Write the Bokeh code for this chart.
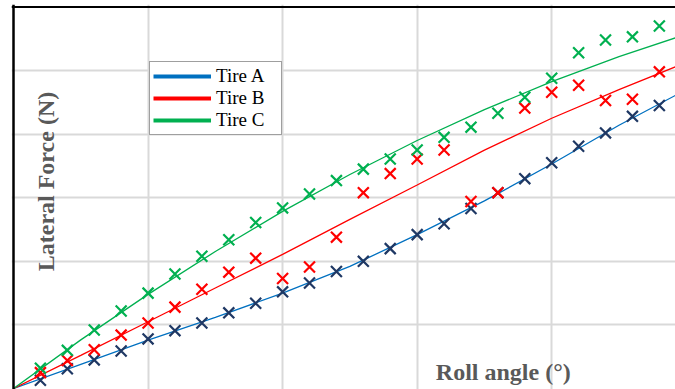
from math import pi

from bokeh.plotting import figure
from bokeh.models import (Range1d, FixedTicker, Grid, Span, Label, Legend,
                          LegendItem, ColumnDataSource)
from bokeh.embed import file_html
from bokeh.resources import INLINE

# Measured points: roll angle (deg) and lateral force (N) for each tire
roll_angle = [2, 4, 6, 8, 10, 12, 14, 16, 18, 20, 22, 24,
              26, 28, 30, 32, 34, 36, 38, 40, 42, 44, 46, 48]
tire_a = [26, 62, 90, 118, 156, 182, 206, 238, 268, 304, 332, 368,
          400, 440, 484, 518, 566, 616, 660, 710, 762, 804, 856, 890]
tire_b = [50, 88, 122, 168, 206, 256, 312, 366, 410, 346, 382, 476,
          616, 676, 722, 750, 588, 616, 882, 932, 954, 906, 910, 996]
tire_c = [64, 120, 184, 244, 300, 360, 416, 468, 522, 568, 612, 654,
          690, 722, 750, 790, 822, 866, 916, 976, 1056, 1096, 1106, 1140]

# Trend curves for each tire
trend_angle = [0, 5, 10, 15, 20, 25, 30, 35, 40, 45, 49.2]
trend_a = [0, 76, 152, 224, 300, 384, 484, 590, 706, 828, 922]
trend_b = [0, 104, 210, 316, 422, 532, 640, 750, 850, 940, 1012]
trend_c = [0, 153, 296, 431, 557, 673, 780, 877, 965, 1044, 1103]

series_names = ["Tire A", "Tire B", "Tire C"]
line_colors = ["#0070C0", "#FF0000", "#00B050"]
marker_colors = ["#1F3864", "#FF0000", "#00B050"]

x_grid = [10, 20, 30, 40]
y_grid = [200, 400, 600, 800, 1000]
x_top, y_top = 49.2, 1200

p = figure(width=675, height=389,
           x_range=Range1d(-0.149, x_top), y_range=Range1d(-3.1, 1207.8),
           x_axis_type=None, y_axis_type=None,
           min_border_left=11, min_border_top=4,
           min_border_right=0, min_border_bottom=0,
           toolbar_location=None, output_backend="svg",
           background_fill_color="white", border_fill_color="white")
p.outline_line_color = None

for dim, ticks in ((0, x_grid), (1, y_grid)):
    g = Grid(dimension=dim, ticker=FixedTicker(ticks=ticks),
             grid_line_color="#D9D9D9", grid_line_width=2)
    p.add_layout(g)

# frame edges: value axis on the left, border on top
p.add_layout(Span(location=0, dimension="height",
                  line_color="black", line_width=2.5))
p.add_layout(Span(location=y_top, dimension="width",
                  line_color="black", line_width=2))

measured = [tire_a, tire_b, tire_c]
trends = [trend_a, trend_b, trend_c]

for trend, color in zip(trends, line_colors):
    p.line(trend_angle, trend, line_color=color, line_width=1.3)

for values, color in zip(measured, marker_colors):
    src = ColumnDataSource(dict(x=roll_angle, y=values))
    p.scatter("x", "y", source=src, marker="x", size=15.5,
              line_color=color, line_width=2.2)

# thick swatches used only by the legend (no visible data)
nan = float("nan")
legend_items = []
for name, color in zip(series_names, line_colors):
    r = p.line([nan], [nan], line_color=color, line_width=4)
    legend_items.append(LegendItem(label=name, renderers=[r]))

legend = Legend(items=legend_items, location=(138, 254),
                border_line_color="#404040", border_line_width=1,
                background_fill_color="white", background_fill_alpha=1,
                padding=3, spacing=0, margin=0,
                glyph_width=58, glyph_height=20, label_height=20,
                label_width=62, label_standoff=5,
                label_text_font="Liberation Serif",
                label_text_font_size="19px",
                label_text_color="black")
p.add_layout(legend)

p.add_layout(Label(x=2.38, y=651, text="Lateral Force (N)", angle=pi / 2,
                   text_align="center", text_baseline="alphabetic",
                   text_font="Liberation Serif", text_font_style="bold",
                   text_font_size="24px", text_color="#595959"))
p.add_layout(Label(x=36.4, y=53, text="Roll angle (°)",
                   text_align="center", text_baseline="alphabetic",
                   text_font="Liberation Serif", text_font_style="bold",
                   text_font_size="24px", text_color="#595959"))

open("out.html", "w").write(file_html(p, INLINE))
